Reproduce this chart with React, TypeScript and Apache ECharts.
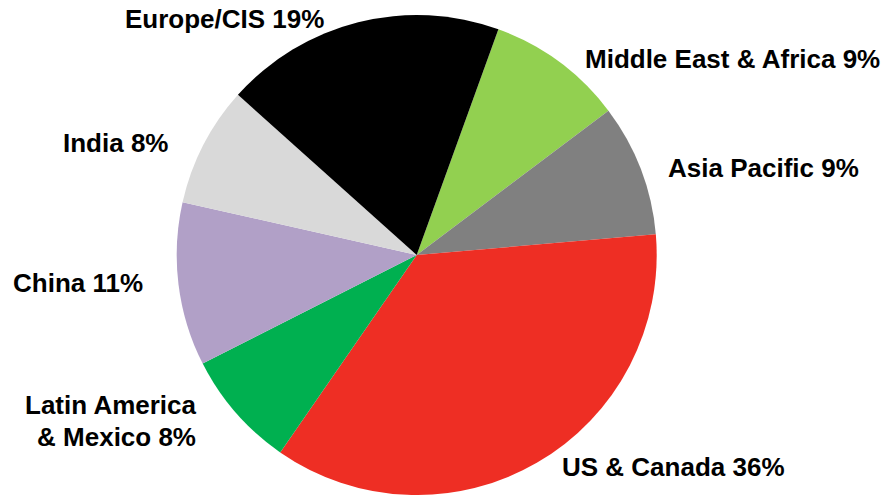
import React, { useEffect, useRef } from "react";
import * as echarts from "echarts";

const categories = [
  "Middle East & Africa",
  "Asia Pacific",
  "US & Canada",
  "Latin America\n& Mexico",
  "China",
  "India",
  "Europe/CIS",
];
const shares = [9.2, 8.9, 36.0, 7.9, 11.0, 8.1, 18.9];
const shareLabels = [9, 9, 36, 8, 11, 8, 19];
const colors = ["#92D050", "#808080", "#EE2E24", "#00B050", "#B1A0C7", "#D9D9D9", "#000000"];

const labelPlaces = [
  { x: 585, y: 59, align: "left" },
  { x: 668, y: 168, align: "left" },
  { x: 562, y: 467, align: "left" },
  { x: 196, y: 421, align: "right" },
  { x: 13, y: 283, align: "left" },
  { x: 63, y: 143, align: "left" },
  { x: 125, y: 18.5, align: "left" },
];

export default function App() {
  const ref = useRef<HTMLDivElement>(null);
  useEffect(() => {
    document.body.style.margin = "0";
    const chart = echarts.init(ref.current!, null, { renderer: "svg" });
    chart.setOption({
      animation: false,
      backgroundColor: "#ffffff",
      series: [
        {
          type: "pie",
          center: [416.7, 255],
          radius: 240,
          startAngle: 70.1,
          clockwise: true,
          avoidLabelOverlap: false,
          silent: true,
          data: categories.map((name, i) => ({
            name,
            value: shares[i],
            itemStyle: { color: colors[i] },
          })),
          label: {
            show: true,
            position: "outside",
            formatter: (p: any) => `${p.name} ${shareLabels[p.dataIndex]}%`,
            fontFamily: "Liberation Sans, Arial, sans-serif",
            fontWeight: "bold",
            fontSize: 26,
            lineHeight: 32,
            color: "#000000",
          },
          labelLine: { show: false },
          labelLayout: (params: any) => {
            const p = labelPlaces[params.dataIndex];
            return { x: p.x, y: p.y, align: p.align, verticalAlign: "middle" };
          },
        },
      ],
    });
    return () => chart.dispose();
  }, []);
  return <div ref={ref} style={{ width: 888, height: 495 }} />;
}
